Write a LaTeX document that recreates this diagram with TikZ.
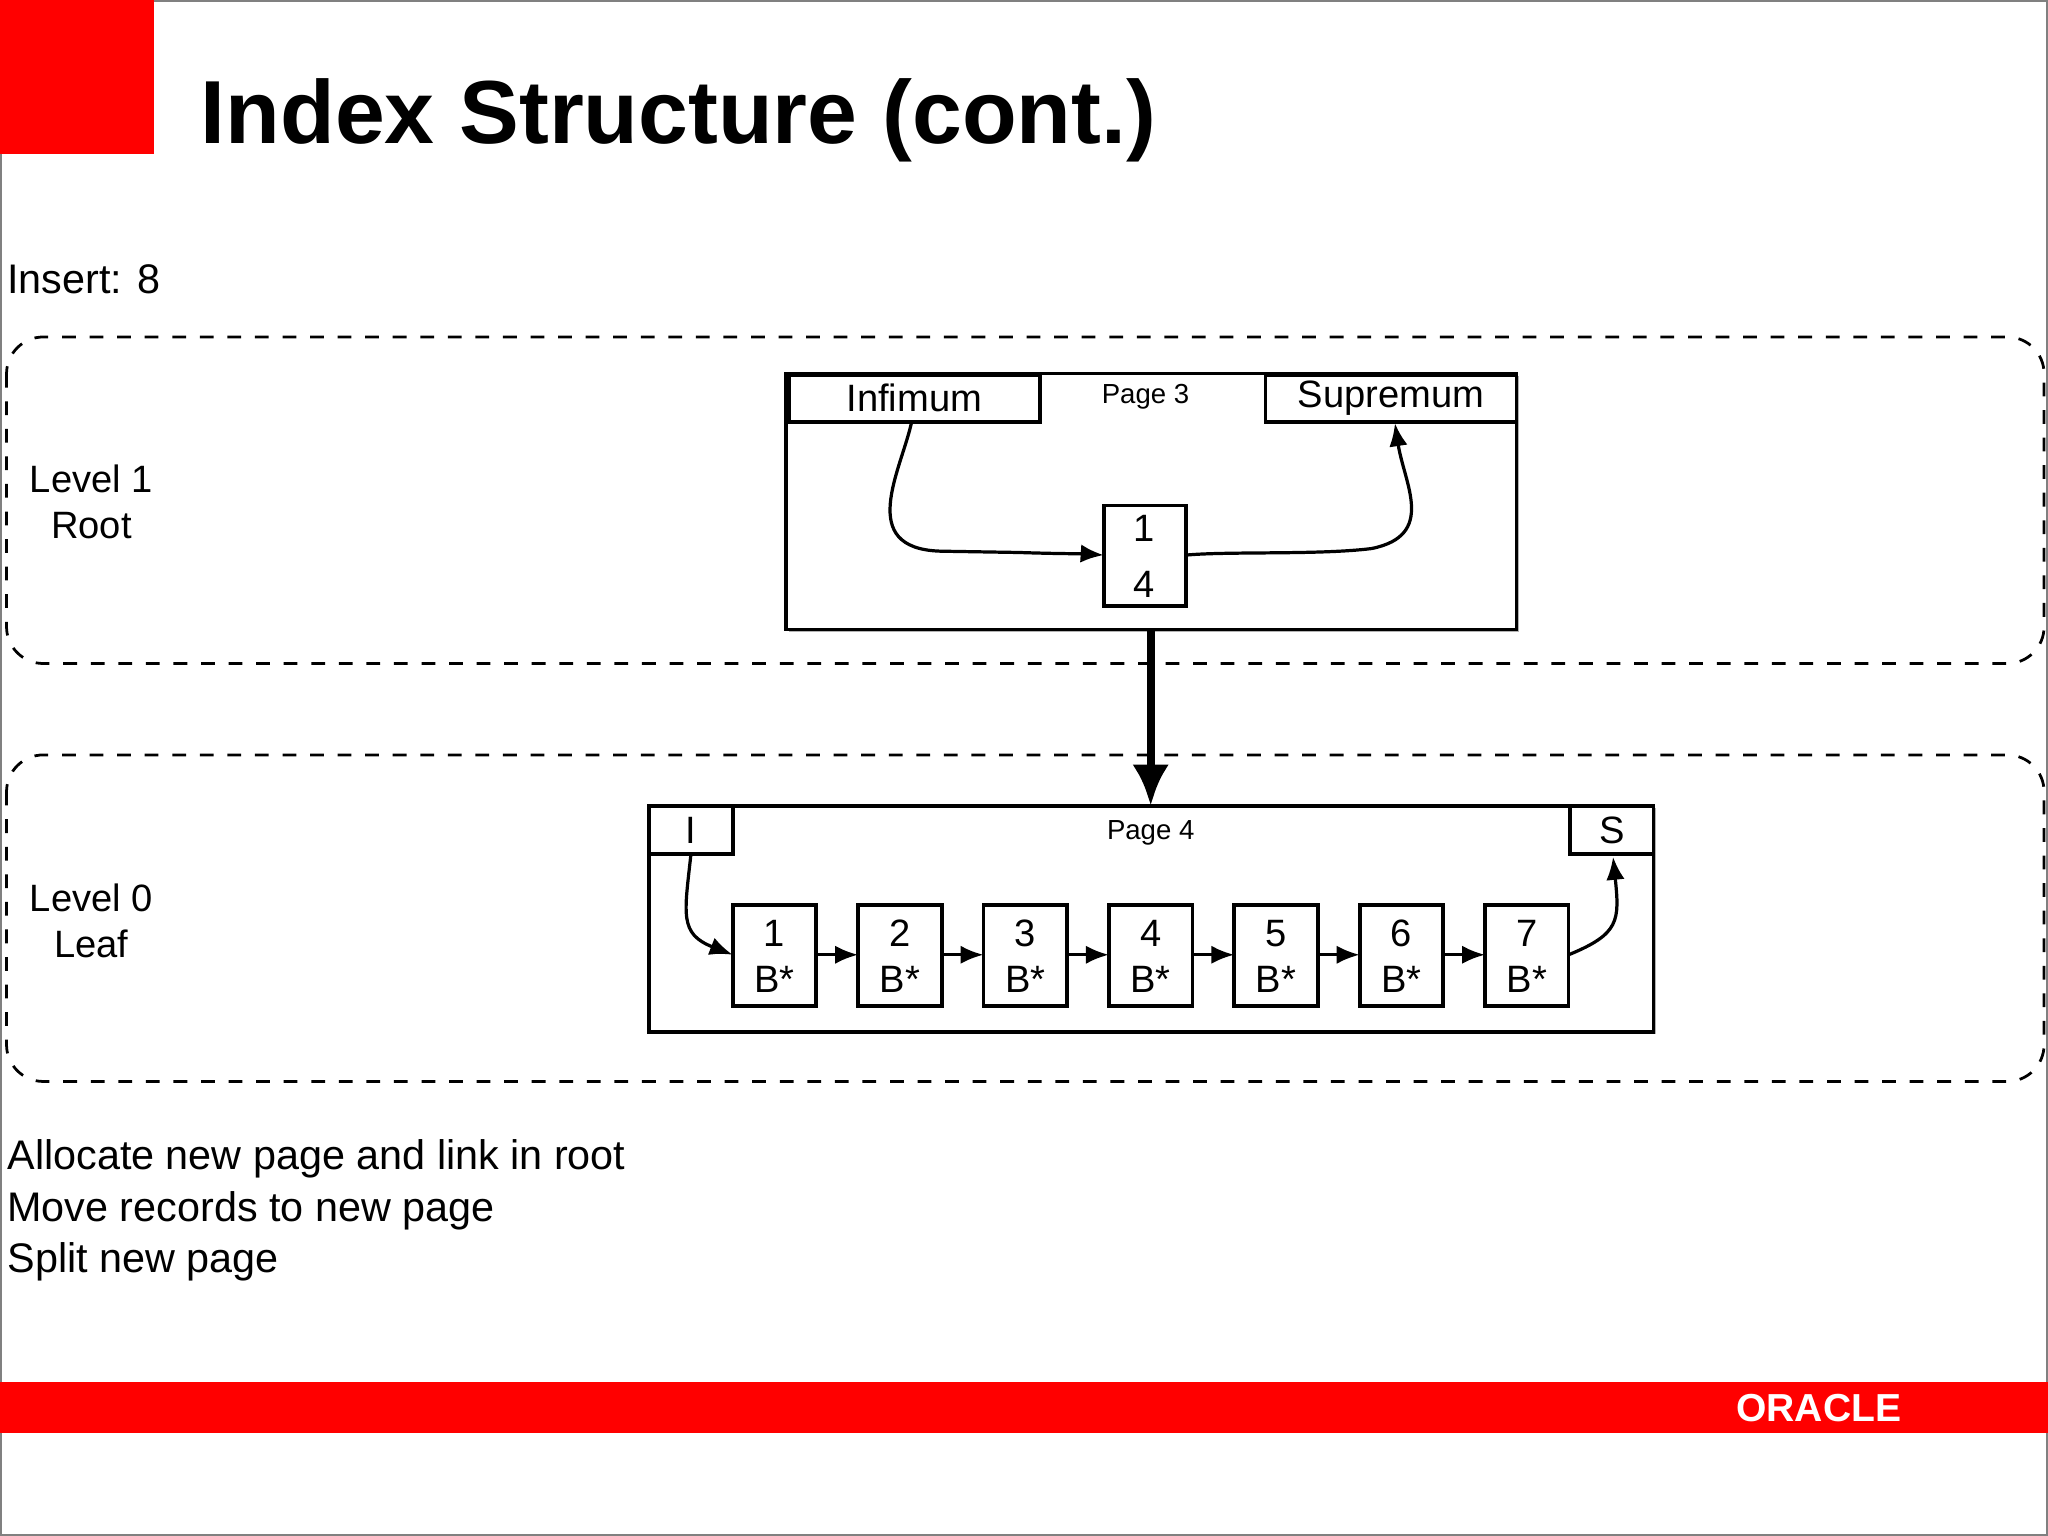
\documentclass[tikz,border=0pt]{standalone}
\usepackage{fontspec}
\setmainfont{Liberation Sans}
\usetikzlibrary{arrows.meta}
\definecolor{ored}{RGB}{255,0,0}
\begin{document}
\begin{tikzpicture}[x=0.01cm,y=-0.01cm,
  box/.style={draw,line width=0.8pt},
  lvl/.style={draw,dashed,rounded corners=8pt,line width=0.6pt},
  arr/.style={-{Latex[length=5pt,width=4pt]},line width=0.7pt},
  big/.style={font=\fontsize{9}{11.2}\selectfont},
  mid/.style={font=\fontsize{8.3}{10}\selectfont},
  small/.style={font=\fontsize{6}{7}\selectfont}]
\useasboundingbox (0,0) rectangle (1568,1176);
\draw[gray,line width=0.5pt] (0.5,0.5) rectangle (1567.5,1175.5);
\fill[ored] (0,0) rectangle (118,118);
\fill[ored] (0,1058) rectangle (1568,1097);
\node[anchor=west,inner sep=0pt,font=\bfseries\fontsize{19.5}{24}\selectfont] (title) at (153,92) {Index Structure (cont.)};
\node[anchor=east,text=white,font=\bfseries\fontsize{8.5}{10}\selectfont] (oracle) at (1468,1078) {ORACLE};
\node[anchor=west,inner sep=0pt,big] (ins) at (5,214) {Insert: 8};
\draw[lvl] (5,258) rectangle (1565,508);
\draw[lvl] (5,578) rectangle (1565,828);
\node[mid,align=center] (l1) at (70,384) {Level 1\\Root};
\node[mid,align=center] (l0) at (70,705) {Level 0\\Leaf};
% page 3
\fill[black!30] (604,288) rectangle (1163,484);
\draw[box,fill=white] (602,286) rectangle (1161,482);
\draw[box] (604,287) rectangle (796,323);
\draw[box] (969,287) rectangle (1161,323);
\node[mid] (inf) at (700,305) {Infimum};
\node[mid] (sup) at (1065,305) {Supremum};
\node[small] (p3) at (877,304) {Page 3};
\coordinate (infb) at (698,323);
\coordinate (supb) at (1068,324);
\draw[box] (845,387) rectangle (908,464);
\coordinate (r14w) at (845,425);
\coordinate (r14e) at (908,425);
\node[mid,align=center] (r14) at (876,426) {1\\[2pt]4};
\draw[arr] (infb) .. controls (690,360) and (655,420) .. (720,422) -- (780,423) .. controls (810,424) and (830,424) .. (r14w);
\draw[arr] (r14e) .. controls (940,422) and (1010,425) .. (1050,420) .. controls (1100,410) and (1075,370) .. (supb);
% page 4
\fill[black!30] (499,619) rectangle (1268,792);
\draw[box,fill=white] (497,617) rectangle (1266,790);
\draw[box] (497,617) rectangle (561,654);
\draw[box] (1202,617) rectangle (1266,654);
\node[mid] (ii) at (529,636) {I};
\node[mid] (ss) at (1234,636) {S};
\node[small] (p4) at (881,638) {Page 4};
\coordinate (p3b) at (881,482);
\coordinate (p4t) at (881,617);
\draw[-{Latex[length=9pt,width=8pt]},line width=1.8pt] (p3b) -- (p4t);
\foreach \i in {1,...,7}{
  \pgfmathsetmacro\xx{561+96*(\i-1)}
  \draw[box] (\xx,693) rectangle (\xx+64,770);
  \coordinate (w\i) at (\xx,731);
  \coordinate (e\i) at (\xx+64,731);
  \node[mid,align=center] (b\i) at (\xx+32,732) {\i\\B*};
}
\foreach \i [count=\j from 2] in {1,...,6}{ \draw[arr] (e\i) -- (w\j); }
\coordinate (ib) at (529,654);
\coordinate (sb) at (1235,656);
\draw[arr] (ib) .. controls (524,700) and (520,715) .. (w1);
\draw[arr] (e7) .. controls (1240,715) and (1240,705) .. (sb);
\node[anchor=north west,inner sep=0pt,big,align=left] (bt) at (5,872) {Allocate new page and link in root\\Move records to new page\\Split new page};
\end{tikzpicture}
\end{document}
